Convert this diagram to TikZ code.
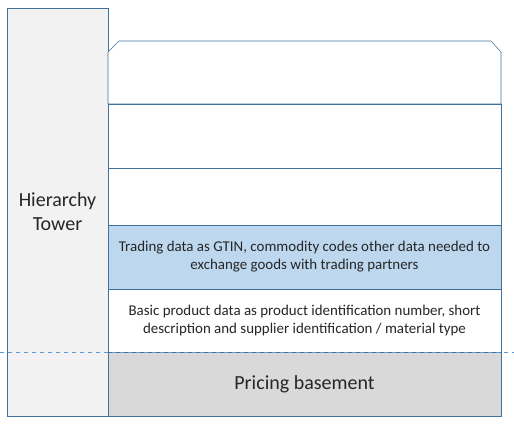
\documentclass[tikz,border=0pt]{standalone}
\usepackage{fontspec}
\setmainfont{Carlito}
\usepackage{xcolor}
\definecolor{hbblue}{RGB}{65,113,156}
\definecolor{hbdash}{RGB}{91,155,213}
\definecolor{hbtower}{RGB}{242,242,242}
\definecolor{hbtrade}{RGB}{189,215,238}
\definecolor{hbbase}{RGB}{217,217,217}
\definecolor{hbtext}{RGB}{38,38,38}
\usetikzlibrary{positioning}
\tikzset{
  level/.style={draw=hbblue, fill=#1},
  leveltext/.style={font=\fontsize{11.2}{13.4}\selectfont, text=hbtext, align=center},
  bigtext/.style={font=\fontsize{15}{18}\selectfont, text=hbtext, align=center},
}
\begin{document}
\begin{tikzpicture}[x=0.75pt, y=-0.75pt]
\useasboundingbox (0,0) rectangle (514,427);

% Tower on the left
\draw[level=hbtower] (7,8) rectangle (108,416);
\node[bigtext] (tower) at (57.5,212) {Hierarchy\\Tower};

% Empty upper levels, chamfered roof
\draw[level=white] (108,104) -- (108,52) -- (119,41) -- (491,41) -- (501,52) -- (501,104) -- cycle;
\draw[level=white] (108,104) rectangle (501,168);
\draw[level=white] (108,168) rectangle (501,225);

% Trading data
\draw[level=hbtrade] (108,225) rectangle (501,289);
\node[leveltext] (trade) at (304.5,257) {Trading data as GTIN, commodity codes other data needed to\\exchange goods with trading partners};

% Basic product data
\draw[level=white] (108,289) rectangle (501,352);
\node[leveltext] (basic) at (304.5,320.5) {Basic product data as product identification number, short\\description and supplier identification / material type};

% Basement
\draw[level=hbbase] (108,352) rectangle (501,416);
\node[bigtext] (base) at (304.5,384) {Pricing basement};

% Ground line
\draw[hbdash, dashed] (0,352) -- (514,352);

\end{tikzpicture}
\end{document}
